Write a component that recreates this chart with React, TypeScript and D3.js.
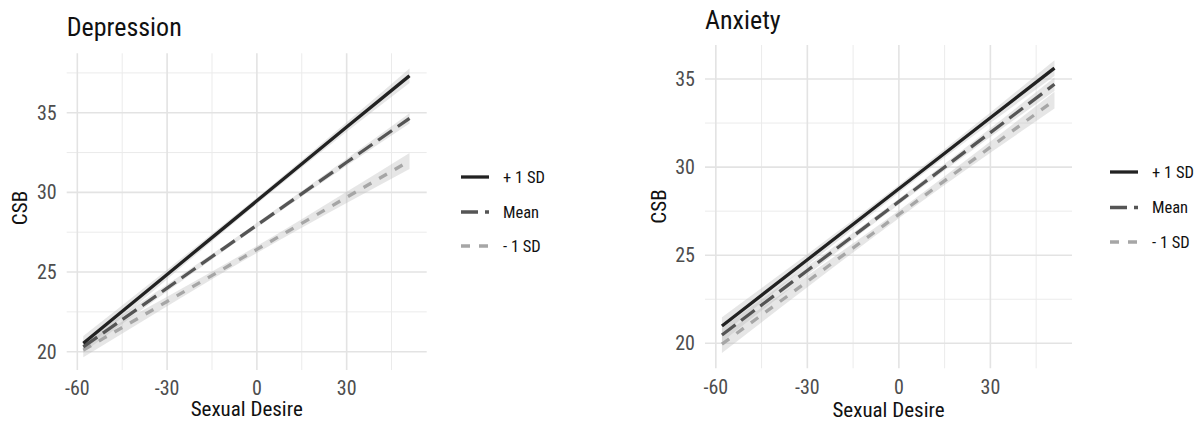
import React from "react";
import { scaleLinear, line, area, curveMonotoneX } from "d3";

// predicted CSB at a few sexual desire values, per moderator level
const xPoints = [-58, -30, 0, 30, 51];
const xTicks = [-60, -30, 0, 30];
const yTicks = [20, 25, 30, 35];
const seriesNames = ["+ 1 SD", "Mean", "- 1 SD"];

const depHigh = [20.53, 24.85, 29.47, 34.1, 37.32];
const depMean = [20.3, 23.99, 27.94, 31.89, 34.65];
const depLow = [20.1, 23.15, 26.42, 29.69, 31.97];
const depHighCI = [0.45, 0.3, 0.2, 0.3, 0.45];
const depMeanCI = [0.35, 0.22, 0.15, 0.22, 0.32];
const depLowCI = [0.45, 0.3, 0.22, 0.35, 0.5];

const anxHigh = [20.98, 24.74, 28.77, 32.8, 35.62];
const anxMean = [20.47, 24.13, 28.04, 31.96, 34.7];
const anxLow = [19.95, 23.51, 27.32, 31.13, 33.8];
const anxHighCI = [0.5, 0.32, 0.22, 0.3, 0.45];
const anxMeanCI = [0.4, 0.25, 0.17, 0.25, 0.38];
const anxLowCI = [0.5, 0.33, 0.22, 0.32, 0.48];

const FONT = "'Roboto Condensed', 'Liberation Sans Narrow', 'DejaVu Sans Condensed', sans-serif";
const styles = [
  { stroke: "#222", dash: "none" },
  { stroke: "#555", dash: "17 7" },
  { stroke: "#a6a6a6", dash: "9 9" },
];

type PanelProps = {
  title: string;
  fits: number[][];
  cis: number[][];
  box: { left: number; right: number; top: number; bottom: number };
  yDomain: [number, number];
  titleY: number;
  csbX: number;
  csbY: number;
  tickY: number;
  axisTitleY: number;
  legendX: number;
  legendYs: number[];
};

const Panel = ({ title, fits, cis, box, yDomain, titleY, csbX, csbY, tickY, axisTitleY, legendX, legendYs }: PanelProps) => {
  const x = scaleLinear().domain([-63.55, 56.75]).range([box.left, box.right]);
  const y = scaleLinear().domain(yDomain).range([box.bottom, box.top]);
  const minorX = [-45, -15, 15, 45];
  const minorY = [22.5, 27.5, 32.5, 37.5].filter((v) => v > yDomain[0] && v < yDomain[1]);

  const lineGen = line<number>()
    .x((_, i) => x(xPoints[i]))
    .y((d) => y(d))
    .curve(curveMonotoneX);

  return (
    <g fontFamily={FONT}>
      <text x={box.left} y={titleY} fontSize={26} fill="#111">
        {title}
      </text>
      {minorX.map((t) => (
        <line key={"mx" + t} x1={x(t)} x2={x(t)} y1={box.top} y2={box.bottom} stroke="#ebebeb" strokeWidth={1} />
      ))}
      {minorY.map((t) => (
        <line key={"my" + t} x1={box.left} x2={box.right} y1={y(t)} y2={y(t)} stroke="#ebebeb" strokeWidth={1} />
      ))}
      {xTicks.map((t) => (
        <line key={"gx" + t} x1={x(t)} x2={x(t)} y1={box.top} y2={box.bottom} stroke="#e3e3e3" strokeWidth={1.6} />
      ))}
      {yTicks.map((t) => (
        <line key={"gy" + t} x1={box.left} x2={box.right} y1={y(t)} y2={y(t)} stroke="#e3e3e3" strokeWidth={1.6} />
      ))}
      {fits.map((f, k) => {
        const ribbon = area<number>()
          .x((_, i) => x(xPoints[i]))
          .y0((d, i) => y(d - cis[k][i]))
          .y1((d, i) => y(d + cis[k][i]))
          .curve(curveMonotoneX);
        return <path key={"r" + k} d={ribbon(f) || ""} fill="#b8b8b8" fillOpacity={0.35} />;
      })}
      {fits
        .map((f, k) => (
          <path
            key={"l" + k}
            d={lineGen(f) || ""}
            fill="none"
            stroke={styles[k].stroke}
            strokeWidth={3.3}
            strokeDasharray={styles[k].dash}
          />
        ))
        .reverse()}
      {xTicks.map((t) => (
        <text key={"tx" + t} x={x(t)} y={tickY} textAnchor="middle" fontSize={20} fill="#4d4d4d">
          {t}
        </text>
      ))}
      {yTicks.map((t) => (
        <text key={"ty" + t} x={box.left - 10} y={y(t) + 7} textAnchor="end" fontSize={20} fill="#4d4d4d">
          {t}
        </text>
      ))}
      <text x={(box.left + box.right) / 2} y={axisTitleY} textAnchor="middle" fontSize={21} fill="#111">
        Sexual Desire
      </text>
      <text transform={`translate(${csbX},${csbY}) rotate(-90)`} textAnchor="middle" fontSize={21} fill="#111">
        CSB
      </text>
      {seriesNames.map((name, k) => (
        <g key={"lg" + k}>
          <line
            x1={legendX}
            x2={legendX + 28}
            y1={legendYs[k]}
            y2={legendYs[k]}
            stroke={styles[k].stroke}
            strokeWidth={3.3}
            strokeDasharray={styles[k].dash}
          />
          <text x={legendX + 42} y={legendYs[k] + 5.8} fontSize={16.5} fill="#111">
            {name}
          </text>
        </g>
      ))}
    </g>
  );
};

export default function App() {
  return (
    <svg width={1202} height={421} style={{ position: "absolute", left: 0, top: 0, background: "#fff" }}>
      <rect width={1202} height={421} fill="#fff" />
      <Panel
        title="Depression"
        fits={[depHigh, depMean, depLow]}
        cis={[depHighCI, depMeanCI, depLowCI]}
        box={{ left: 66.7, right: 426.7, top: 53.3, bottom: 370 }}
        yDomain={[18.85, 38.73]}
        titleY={35.5}
        csbX={27}
        csbY={208}
        tickY={395}
        axisTitleY={416}
        legendX={461}
        legendYs={[177, 212, 246]}
      />
      <Panel
        title="Anxiety"
        fits={[anxHigh, anxMean, anxLow]}
        cis={[anxHighCI, anxMeanCI, anxLowCI]}
        box={{ left: 705, right: 1072, top: 45, bottom: 368.3 }}
        yDomain={[18.58, 36.93]}
        titleY={28.5}
        csbX={666}
        csbY={206.5}
        tickY={393.5}
        axisTitleY={417}
        legendX={1110}
        legendYs={[172, 207.5, 242]}
      />
    </svg>
  );
}
